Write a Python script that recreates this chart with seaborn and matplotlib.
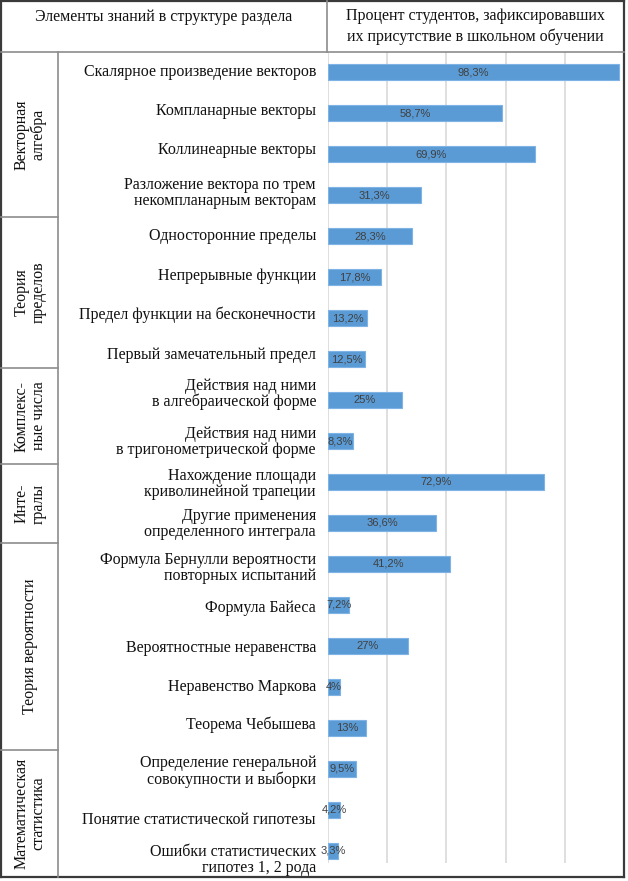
import matplotlib.pyplot as plt
import seaborn as sns
import numpy as np
import pandas as pd

# ---------- data ----------
items = [
    'Скалярное произведение векторов',
    'Компланарные векторы',
    'Коллинеарные векторы',
    'Разложение вектора по трем\nнекомпланарным векторам',
    'Односторонние пределы',
    'Непрерывные функции',
    'Предел функции на бесконечности',
    'Первый замечательный предел',
    'Действия над ними\nв алгебраической форме',
    'Действия над ними\nв тригонометрической форме',
    'Нахождение площади\nкриволинейной трапеции',
    'Другие применения\nопределенного интеграла',
    'Формула Бернулли вероятности\nповторных испытаний',
    'Формула Байеса',
    'Вероятностные неравенства',
    'Неравенство Маркова',
    'Теорема Чебышева',
    'Определение генеральной\nсовокупности и выборки',
    'Понятие статистической гипотезы',
    'Ошибки статистических\nгипотез 1, 2 рода',
]
percent = [98.3, 58.7, 69.9, 31.3, 28.3, 17.8, 13.2, 12.5, 25, 8.3,
           72.9, 36.6, 41.2, 7.2, 27, 4, 13, 9.5, 4.2, 3.3]

groups = ['Векторная\nалгебра', 'Теория\nпределов', 'Комплекс-\nные числа',
          'Инте-\nгралы', 'Теория вероятности', 'Математическая\nстатистика']
group_sizes = [4, 4, 2, 2, 5, 3]

header_left = 'Элементы знаний в структуре раздела'
header_right = 'Процент студентов, зафиксировавших\nих присутствие в школьном обучении'

# ---------- layout (pixels) ----------
W, H = 628, 881
x_left, x_grp, x_div, x_right = 1, 58, 327, 624
y_top, y_head, y_bottom = 1, 52, 877
group_edges = [52, 217, 368, 464, 543, 750, 877]
label_shift = [0, -2, -4, -2, 0, -1, -3, -4, -6, 1, 2, 1, 4, 3, 2, 0, -3, 3, 10, 9]

serif = ['Liberation Serif', 'DejaVu Serif']
narrow = ['Liberation Sans Narrow', 'Liberation Sans', 'DejaVu Sans']
fs = 11.5

df = pd.DataFrame({'item': items, 'percent': percent})

fig = plt.figure(figsize=(W / 100, H / 100), dpi=100)

# bar chart area
ax = fig.add_axes([328 / W, 1 - 871 / H, (x_right - 328) / W, (871 - 52) / H])
sns.barplot(data=df, x='percent', y='item', orient='h', color='#5B9BD5',
            width=0.39, edgecolor='#7FB2E5', linewidth=0.8, saturation=1, ax=ax, zorder=3)
ax.set_xlim(0, 100)
ax.set_ylim(len(items) - 0.5, -0.5)
ax.vlines([0, 20, 40, 60, 80], -0.5, 19.3, color='#D9D9D9', linewidth=1.2, zorder=1)
ax.set_xticks([])
ax.set_yticks([])
ax.set_xlabel('')
ax.set_ylabel('')
for s in ax.spines.values():
    s.set_visible(False)

for i, v in enumerate(percent):
    txt = f'{v:g}'.replace('.', ',') + '%'
    ax.text(v / 2, i, txt, ha='center', va='center', fontsize=8,
            family=narrow, color='#404040', zorder=4)

# table overlay
tb = fig.add_axes([0, 0, 1, 1], zorder=5)
tb.set_xlim(0, W)
tb.set_ylim(H, 0)
tb.axis('off')
tb.patch.set_alpha(0)

dark = dict(color='#3A3A3A', linewidth=1.6)
grey = dict(color='#8C8C8C', linewidth=1.2)
tb.plot([x_left, x_left], [y_top, y_bottom], **dark)
tb.plot([x_right, x_right], [y_top, y_bottom], **dark)
tb.plot([x_left, x_right], [y_bottom, y_bottom], **dark)
tb.plot([x_left, x_right], [y_top, y_top], **dark)
tb.plot([x_left, x_right], [y_head, y_head], **grey)
tb.plot([x_div, x_div], [y_top, y_head], **grey)
tb.plot([x_grp, x_grp], [y_head, y_bottom], **grey)
for y in group_edges[1:-1]:
    tb.plot([x_left, x_grp], [y, y], **grey)

tb.text((x_left + x_div) / 2, 17, header_left, ha='center', va='center',
        fontsize=fs, family=serif, color='#111111')
tb.text((x_div + x_right) / 2, 26.5, header_right, ha='center', va='center',
        fontsize=fs, family=serif, color='#111111', linespacing=1.3)

for g, y0, y1 in zip(groups, group_edges[:-1], group_edges[1:]):
    tb.text(30, (y0 + y1) / 2, g, ha='center', va='center', rotation=90,
            fontsize=fs, family=serif, color='#111111', linespacing=1.1)

# item labels follow the bar rows
row_px = (871 - 52) / len(items)
for i, (lab, dy) in enumerate(zip(items, label_shift)):
    yc = 52 + row_px * (i + 0.5) + dy
    tb.text(316, yc, lab, ha='right', va='center', fontsize=fs,
            family=serif, color='#111111', linespacing=1.0)

plt.savefig('out.png', dpi=100)
